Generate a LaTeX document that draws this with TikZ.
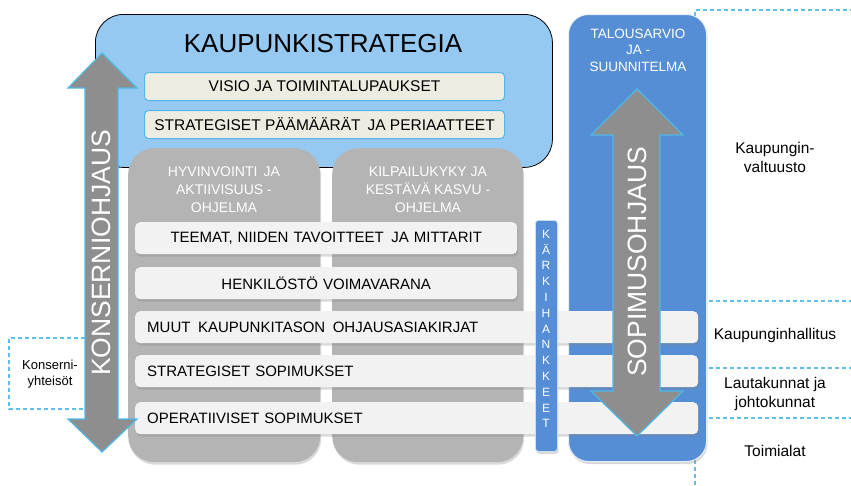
\documentclass[tikz,border=0pt]{standalone}
\usepackage{fontspec}
\setmainfont{Liberation Sans}
\usetikzlibrary{shadows}

\definecolor{stratblue}{RGB}{149,201,242}
\definecolor{cream}{RGB}{238,236,225}
\definecolor{edgeblue}{RGB}{80,185,232}
\definecolor{boxgray}{RGB}{180,180,180}
\definecolor{barwhite}{RGB}{242,242,242}
\definecolor{budgetblue}{RGB}{85,142,213}
\definecolor{arrowgray}{RGB}{142,142,142}
\definecolor{dashblue}{RGB}{91,192,235}

\tikzset{
  levelline/.style={dashblue, line width=1.2pt, dash pattern=on 4pt off 3pt},
  softshadow/.style={drop shadow={shadow xshift=1pt, shadow yshift=-2.5pt, opacity=0.3}},
  goalbox/.style={anchor=north west, fill=cream, draw=edgeblue, line width=1pt,
    rounded corners=4pt, minimum width=360pt, minimum height=28pt,
    font=\fontsize{15.5}{18}\selectfont},
  programme/.style={anchor=north west, fill=boxgray, rounded corners=26pt,
    minimum height=314pt, softshadow},
  progtxt/.style={text=white, align=center, font=\fontsize{14}{18}\selectfont},
  whitebar/.style={anchor=north west, fill=barwhite, rounded corners=5pt,
    minimum height=32pt, inner xsep=12pt, text width=#1, softshadow,
    font=\fontsize{15}{18}\selectfont},
  steerarrow/.style={fill=arrowgray, draw=edgeblue, line width=1.2pt, line join=miter},
  steertxt/.style={text=white, rotate=90, font=\fontsize{26.5}{30}\selectfont},
  tierlabel/.style={align=center, font=\fontsize{15.5}{19}\selectfont}
}

\begin{document}
\begin{tikzpicture}[x=1pt, y=-1pt]
  \useasboundingbox (0,0) rectangle (851,485);

  % levels on the right
  \draw[levelline] (695,485) -- (695,10) -- (851,10);
  \draw[levelline] (695,301) -- (851,301);
  \draw[levelline] (695,368) -- (851,368);
  \draw[levelline] (695,418) -- (851,418);
  \draw[levelline] (85,338) -- (9,338) -- (9,409) -- (85,409);

  % city strategy
  \node[anchor=north west, fill=stratblue, draw=black, line width=0.8pt, rounded corners=28pt,
    minimum width=457pt, minimum height=153pt] (strategy) at (95,14) {};
  \node[font=\fontsize{26}{30}\selectfont] (title) at (323,44) {KAUPUNKISTRATEGIA};
  \node[goalbox] (visio) at (144,72) {VISIO JA TOIMINTALUPAUKSET};
  \node[goalbox] (goals) at (144,110) {STRATEGISET PÄÄMÄÄRÄT\, JA PERIAATTEET};

  % programmes
  \node[programme, minimum width=192pt] (wellbeing) at (128,148) {};
  \node[programme, minimum width=191pt] (growth) at (332,148) {};
  \node[progtxt] (wellbeingtxt) at (224,190) {HYVINVOINTI\, JA\\AKTIIVISUUS -\\OHJELMA};
  \node[progtxt] (growthtxt) at (428,190) {KILPAILUKYKY JA\\KESTÄVÄ KASVU -\\OHJELMA};

  % budget
  \node[anchor=north west, fill=budgetblue, draw=white!85!budgetblue, line width=1pt,
    rounded corners=20pt, minimum width=138pt, minimum height=447pt, softshadow] (budget) at (568,14) {};
  \node[text=white, align=center, font=\fontsize{13.5}{16.5}\selectfont] (budgettxt) at (638,50)
    {TALOUSARVIO\\JA -\\SUUNNITELMA};

  % bars
  \node[whitebar=358pt, align=center] (themes) at (135,222) {TEEMAT, NIIDEN TAVOITTEET\, JA MITTARIT};
  \node[whitebar=358pt, align=center] (staff) at (135,267) {HENKILÖSTÖ VOIMAVARANA};
  \node[whitebar=539pt, align=left] (otherdocs) at (135,311) {MUUT\, KAUPUNKITASON\, OHJAUSASIAKIRJAT};
  \node[whitebar=539pt, align=left] (stratagr) at (135,355) {STRATEGISET SOPIMUKSET};
  \node[whitebar=539pt, align=left] (operagr) at (135,402) {OPERATIIVISET SOPIMUKSET};

  % key projects
  \node[anchor=north west, fill=budgetblue, draw=white!70!budgetblue, line width=0.8pt,
    rounded corners=3pt, minimum width=22pt, minimum height=231pt, softshadow] (keyproj) at (535,220) {};
  \node[text=white, align=center, font=\fontsize{12}{15.8}\selectfont] (keyprojtxt) at (546,329)
    {K\\Ä\\R\\K\\I\\H\\A\\N\\K\\K\\E\\E\\T};

  % steering arrows
  \draw[steerarrow] (102,53) -- (137,88) -- (118,88) -- (118,419) -- (137,419) -- (102,452)
    -- (68,419) -- (85,419) -- (85,88) -- (68,88) -- cycle;
  \node[steertxt] (groupsteer) at (101,253) {KONSERNIOHJAUS};
  \draw[steerarrow] (637,89) -- (683,135) -- (660,135) -- (660,391) -- (683,391) -- (637,436)
    -- (591,391) -- (613,391) -- (613,135) -- (591,135) -- cycle;
  \node[steertxt] (contractsteer) at (637,262) {SOPIMUSOHJAUS};

  % labels
  \node[align=center, font=\fontsize{13}{16.5}\selectfont] (subsid) at (50,374) {Konserni-\\yhteisöt};
  \node[tierlabel] (council) at (775,157) {Kaupungin-\\valtuusto};
  \node[tierlabel] (board) at (775,335) {Kaupunginhallitus};
  \node[tierlabel] (committees) at (775,394) {Lautakunnat ja\\johtokunnat};
  \node[tierlabel] (sectors) at (775,451) {Toimialat};
\end{tikzpicture}
\end{document}
